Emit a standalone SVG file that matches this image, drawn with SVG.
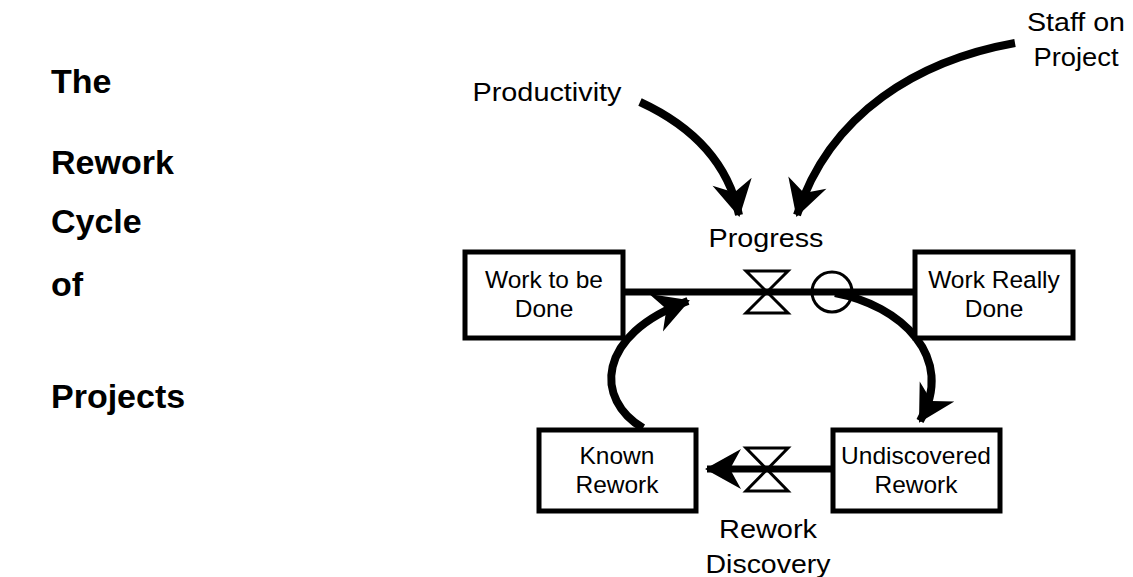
<svg xmlns="http://www.w3.org/2000/svg" width="1133" height="577" viewBox="0 0 1133 577">
<style>
text{font-family:"Liberation Sans",Arial,sans-serif;fill:#000}
.title{font-size:34px;font-weight:bold}
.lbl{font-size:26px;text-anchor:middle}
.box{font-size:24.5px;text-anchor:middle}
.stock{fill:#fff;stroke:#000;stroke-width:5}
.pipe{stroke:#000;stroke-width:7;fill:none}
.valve{fill:none;stroke:#000;stroke-width:3;stroke-linejoin:miter}
.link{fill:none;stroke:#000;stroke-width:8}
</style>
<defs>
<marker id="ah" markerUnits="userSpaceOnUse" markerWidth="44" markerHeight="46" viewBox="-36 -23 40 46" refX="0" refY="0" orient="auto">
<path d="M2,0 L-34,-20 L-23,0 L-34,20 Z" fill="#000"/>
</marker>
</defs>
<rect width="1133" height="577" fill="#fff"/>
<g id="title">
<text class="title" x="51" y="93">The</text>
<text class="title" x="51" y="174">Rework</text>
<text class="title" x="51" y="233">Cycle</text>
<text class="title" x="51" y="296">of</text>
<text class="title" x="51" y="408">Projects</text>
</g>
<g id="connectors">
<line class="pipe" x1="625" y1="292" x2="915" y2="292"/>
<line class="pipe" x1="832" y1="469" x2="707" y2="469" marker-end="url(#ah)"/>
<path class="link" d="M640,102 C692,126 728,162 739,215" marker-end="url(#ah)"/>
<path class="link" d="M1015,43 C920,60 830,112 797,215" marker-end="url(#ah)"/>
<path class="link" d="M643,428 C595,400 595,335 688,301" marker-end="url(#ah)"/>
<path class="link" d="M835,293 C900,305 957,357 920,421" marker-end="url(#ah)"/>
</g>
<g id="progress">
<path class="valve" d="M746,271 L788,271 L746,313 L788,313 Z"/>
<text class="lbl" x="766" y="247" textLength="115" lengthAdjust="spacingAndGlyphs">Progress</text>
</g>
<g id="converter">
<circle cx="832" cy="292" r="20" fill="none" stroke="#000" stroke-width="3"/>
</g>
<g id="rework-discovery">
<path class="valve" d="M746,448 L788,448 L746,491 L788,491 Z"/>
<text class="lbl" x="768" y="538" textLength="98" lengthAdjust="spacingAndGlyphs">Rework</text>
<text class="lbl" x="768" y="573" textLength="125" lengthAdjust="spacingAndGlyphs">Discovery</text>
</g>
<g id="productivity">
<text class="lbl" x="547" y="101" textLength="149" lengthAdjust="spacingAndGlyphs">Productivity</text>
</g>
<g id="staff">
<text class="lbl" x="1076" y="31" textLength="98" lengthAdjust="spacingAndGlyphs">Staff on</text>
<text class="lbl" x="1076" y="66" textLength="85" lengthAdjust="spacingAndGlyphs">Project</text>
</g>
<g id="work-to-be-done">
<rect class="stock" x="465" y="252" width="158" height="86"/>
<text class="box" x="544" y="288">Work to be</text>
<text class="box" x="544" y="317">Done</text>
</g>
<g id="work-really-done">
<rect class="stock" x="915" y="252" width="158" height="86"/>
<text class="box" x="994" y="288">Work Really</text>
<text class="box" x="994" y="317">Done</text>
</g>
<g id="known-rework">
<rect class="stock" x="539" y="430" width="157" height="81"/>
<text class="box" x="617" y="464">Known</text>
<text class="box" x="617" y="493">Rework</text>
</g>
<g id="undiscovered-rework">
<rect class="stock" x="833" y="430" width="167" height="81"/>
<text class="box" x="916" y="464">Undiscovered</text>
<text class="box" x="916" y="493">Rework</text>
</g>
</svg>
